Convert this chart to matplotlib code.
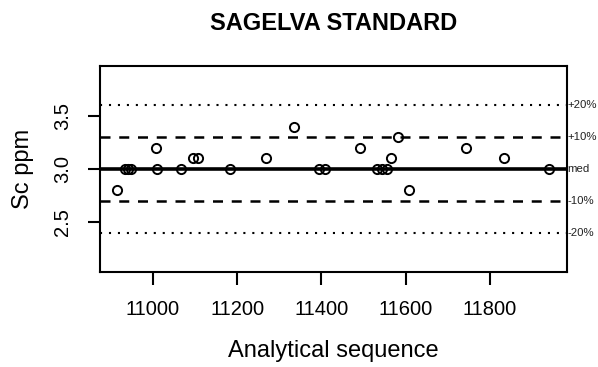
import matplotlib
matplotlib.use("Agg")
import matplotlib.pyplot as plt

plt.rcParams['font.family'] = ['Liberation Sans', 'DejaVu Sans']

# analytical sequence number and measured Sc (ppm)
seq = [10914, 10934, 10941, 10948, 11007, 11010, 11067, 11095, 11107, 11183,
       11268, 11335, 11394, 11409, 11492, 11532, 11544, 11556, 11565, 11582,
       11608, 11743, 11834, 11941]
sc = [2.8, 3.0, 3.0, 3.0, 3.2, 3.0, 3.0, 3.1, 3.1, 3.0,
      3.1, 3.4, 3.0, 3.0, 3.2, 3.0, 3.0, 3.0, 3.1, 3.3,
      2.8, 3.2, 3.1, 3.0]

median = 3.0
limit_labels = ["+20%", "+10%", "med", "-10%", "-20%"]
limit_factors = [1.2, 1.1, 1.0, 0.9, 0.8]
limit_styles = [":", "--", "-", "--", ":"]
limit_widths = [1.5, 1.8, 2.6, 1.8, 1.5]

x_ticks = [11000, 11200, 11400, 11600, 11800]
y_ticks = [2.5, 3.0, 3.5]

fig = plt.figure(figsize=(5.98, 3.67), dpi=100)
ax = fig.add_axes([100 / 598, 1 - 272 / 367, 467 / 598, 206 / 367])

for lab, f, ls, lw in zip(limit_labels, limit_factors, limit_styles, limit_widths):
    yv = median * f
    if ls == ":":
        ax.axhline(yv, color="black", lw=lw, linestyle=(0, (1, 3.3)))
    elif ls == "--":
        ax.axhline(yv, color="black", lw=lw, linestyle=(0, (4, 3.5)))
    else:
        ax.axhline(yv, color="black", lw=lw)
    ax.text(1.0, yv, lab, transform=ax.get_yaxis_transform(),
            ha="left", va="center", fontsize=8.2, color="#222222", clip_on=False)

ax.plot(seq, sc, linestyle="none", marker="o", markersize=6.6,
        markerfacecolor="none", markeredgecolor="black", markeredgewidth=1.4,
        zorder=3)

ax.set_xlim(10874, 11983)
ax.set_ylim(2.03, 3.97)
ax.set_xticks(x_ticks)
ax.set_yticks(y_ticks)
ax.set_yticklabels([f"{v:.1f}" for v in y_ticks], rotation=90, va="center")

for s in ax.spines.values():
    s.set_linewidth(1.5)
ax.tick_params(axis="both", length=9, width=1.5, labelsize=14.5, pad=11)

ax.set_xlabel("Analytical sequence", fontsize=17, labelpad=15)
ax.set_ylabel("Sc ppm", fontsize=17, labelpad=14)
fig.text(ax.get_position().x0 + ax.get_position().width / 2, 1 - 23 / 367,
         "SAGELVA STANDARD", ha="center", va="center",
         fontsize=17, fontweight="bold")

fig.savefig("out.png", dpi=100)
